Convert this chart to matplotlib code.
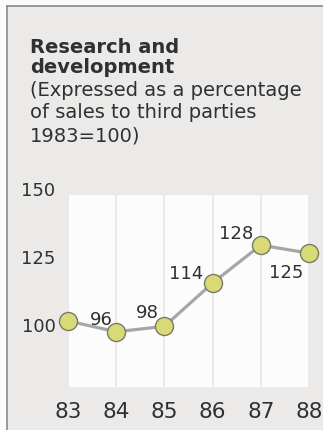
import matplotlib.pyplot as plt
from matplotlib.patches import Rectangle
from matplotlib.lines import Line2D
from matplotlib.transforms import ScaledTranslation

# R&D spend index, 1983 = 100
years = [83, 84, 85, 86, 87, 88]
index_values = [100, 96, 98, 114, 128, 125]
year_labels = ['83', '84', '85', '86', '87', '88']
y_ticks = [100, 125, 150]

# where each value label sits relative to its point (pixels)
label_offsets = [None, (-15, 12), (-17, 13), (-26, 9), (-25, 11), (-23, -20)]

plt.rcParams['font.family'] = ['DejaVu Sans']

bg = '#ebeae9'
ink = '#303030'

fig = plt.figure(figsize=(3.23, 4.30), dpi=100)
fig.patch.set_facecolor('#fbfbfb')

# grey panel with a thin rule on the left and top
W, H = 323, 430
fig.patches.append(Rectangle((7 / W, 0), 1, 1 - 6 / H, transform=fig.transFigure,
                             facecolor=bg, edgecolor='none', zorder=-5))
fig.lines.append(Line2D([7 / W, 7 / W], [0, 1 - 6 / H], transform=fig.transFigure,
                        color='#8a8a8a', lw=1.2, zorder=-4))
fig.lines.append(Line2D([7 / W, 1], [1 - 6 / H, 1 - 6 / H], transform=fig.transFigure,
                        color='#8a8a8a', lw=1.2, zorder=-4))

# title block
fig.text(30 / W, 1 - 53 / H, 'Research and', fontsize=14, fontweight='bold', color=ink)
fig.text(30 / W, 1 - 73 / H, 'development', fontsize=14, fontweight='bold', color=ink)
sub = ['(Expressed as a percentage', 'of sales to third parties', '1983=100)']
for i, line in enumerate(sub):
    fig.text(30 / W, 1 - (96 + 22.5 * i) / H, line, fontsize=14, color=ink)

ax = fig.add_axes([68 / W, (430 - 387) / H, (309 - 68) / W, (387 - 185.5) / H])
ax.set_facecolor('none')
ax.set_xlim(83, 88)
ax.set_ylim(75.6, 150)

# white columns between the years, split by thin gaps
for x0 in years[:-1]:
    ax.add_patch(Rectangle((x0 + 0.02, 75.6), 0.96, 146.5 - 75.6,
                           facecolor='#fcfcfc', edgecolor='none', zorder=0))

ax.plot(years, index_values, color='#a6a6a6', lw=2.3, zorder=2, clip_on=False)
ax.plot(years, index_values, 'o', ms=13, mfc='#d9d976', mec='#7a7a6a', mew=1.0,
        zorder=3, clip_on=False)

for x, v, off in zip(years, index_values, label_offsets):
    if off is None:
        continue
    ax.annotate(str(v), (x, v), xytext=off, textcoords='offset pixels',
                ha='center', va='center', fontsize=13, color=ink)

ax.set_xticks(years)
ax.set_xticklabels(year_labels, fontsize=15.5, color=ink)
ax.set_yticks(y_ticks)
ax.set_yticklabels([str(t) for t in y_ticks], fontsize=13, color=ink)
ax.tick_params(axis='x', length=0, pad=11)
ax.tick_params(axis='y', length=0, pad=9)
# y labels sit a touch below their gridline value
shift = ScaledTranslation(0, -4 / 100, fig.dpi_scale_trans)
for label in ax.get_yticklabels():
    label.set_transform(label.get_transform() + shift)
for s in ax.spines.values():
    s.set_visible(False)

fig.savefig('out.png', dpi=100)
